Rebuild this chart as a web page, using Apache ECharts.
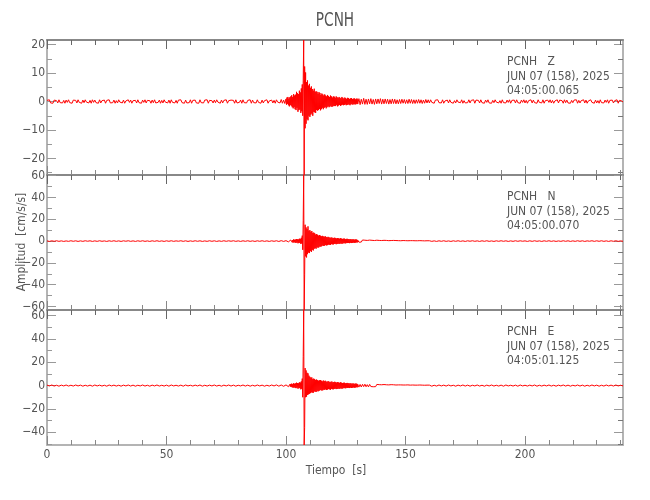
<!DOCTYPE html>
<html><head><meta charset="utf-8">
<script src="https://cdn.jsdelivr.net/npm/echarts@6.0.0/dist/echarts.min.js"></script>
<style>html,body{margin:0;padding:0;background:#fff}#c{width:650px;height:500px}</style>
</head><body><div id="c"></div>
<script>
// ---- data: each trace is 4 segments (pre-event, event, coda tail, post) ----
const segStart = [0, 100, 130, 160];           // segment start times [s]
const zSteps = [0.5, 0.2, 0.5, 0.5];           // sample spacing per segment [s]
const nSteps = [1, 0.2, 0.5, 1];
const eSteps = [1, 0.2, 0.5, 1];

const zPre = [0.4,-0.3,0.6,-0.5,0.2,-0.6,0.5,-0.2,0.3,-0.5,0.6,-0.4,0.1,-0.5,0.4,-0.6,0.5,-0.3,0.6,-0.4,
0.3,-0.6,0.5,-0.1,0.4,-0.5,0.6,-0.3,0.2,-0.6,0.5,-0.4,0.6,-0.2,0.3,-0.5,0.4,-0.6,0.6,-0.3,
0.5,-0.4,0.2,-0.6,0.6,-0.5,0.3,-0.2,0.5,-0.6,0.4,-0.3,0.6,-0.5,0.1,-0.4,0.5,-0.6,0.3,-0.5,
0.6,-0.2,0.4,-0.5,0.5,-0.6,0.2,-0.4,0.6,-0.3,0.5,-0.6,0.3,-0.1,0.4,-0.5,0.6,-0.4,0.2,-0.6,
0.5,-0.3,0.6,-0.5,0.4,-0.2,0.3,-0.6,0.5,-0.4,0.6,-0.5,0.2,-0.3,0.5,-0.6,0.4,-0.5,0.6,-0.2,
0.3,-0.5,0.5,-0.6,0.6,-0.3,0.1,-0.5,0.4,-0.6,0.5,-0.2,0.6,-0.4,0.3,-0.6,0.5,-0.5,0.2,-0.4,
0.6,-0.6,0.4,-0.3,0.5,-0.5,0.2,-0.6,0.6,-0.4,0.3,-0.5,0.5,-0.2,0.6,-0.6,0.4,-0.3,0.3,-0.5,
0.5,-0.4,0.6,-0.2,0.2,-0.6,0.5,-0.5,0.4,-0.3,0.6,-0.6,0.3,-0.4,0.5,-0.1,0.4,-0.6,0.6,-0.5,
0.2,-0.3,0.5,-0.6,0.6,-0.4,0.3,-0.5,0.4,-0.2,0.6,-0.6,0.5,-0.4,0.2,-0.5,0.6,-0.3,0.4,-0.6,
0.5,-0.5,0.3,-0.4,0.6,-0.6,0.2,-0.3,0.5,-0.5,0.4,-0.6,0.6,-0.2,0.3,-0.5,0.7,-0.6,0.5,-0.7];
const zEvent = [0.9,-1.1,1.4,-0.8,1.6,-1.3,1.0,-1.7,1.5,-1.2,
1.8,-1.5,2.2,-2.0,1.6,-2.4,2.6,-1.9,2.1,-2.7,
2.4,-3.0,3.4,-2.2,2.9,-3.6,2.6,-3.0,3.8,-2.8,
3.2,-4.0,4.6,-3.4,6.0,-5.0,7.5,21.6,-25.8,12.3,
-9.4,10.2,-7.8,6.8,-6.2,7.4,-6.6,5.6,-5.0,6.2,
-5.4,4.8,-4.6,5.3,-4.2,4.4,-5.0,3.8,-3.6,4.5,
-3.8,3.4,-4.0,3.6,-3.0,3.4,-3.2,2.7,-3.0,3.3,
-2.6,3.0,-3.1,2.3,-2.7,2.8,-2.2,2.5,-2.7,2.1,
-2.2,2.5,-1.9,2.1,-2.4,1.8,-2.0,2.3,-1.6,1.9,
-2.0,1.6,-1.8,2.1,-1.5,1.8,-1.9,1.4,-1.7,1.8,
-1.5,1.7,-1.6,1.3,-1.6,1.8,-1.2,1.5,-1.7,1.2,
-1.4,1.6,-1.2,1.3,-1.5,1.1,-1.3,1.6,-1.1,1.3,
-1.3,1.0,-1.2,1.4,-1.0,1.2,-1.3,0.9,-1.2,1.3,
-1.0,1.2,-1.1,0.9,-1.3,1.1,-0.9,1.2,-1.0,0.9,
-1.1,1.0,-0.9,1.1,-1.0,0.8,-1.0,1.0,-0.8,1.0];
const zTail = [-0.9,1.0,-1.1,0.8,-0.9,1.1,-1.0,0.8,-1.0,0.9,-0.8,1.0,-0.9,0.7,-1.0,0.9,-0.8,0.9,-0.7,1.0,-0.9,0.8,-0.8,0.9,-0.7,0.8,-0.9,0.7,-0.8,0.9,-0.7,0.8,-0.8,0.6,-0.8,0.7,-0.7,0.8,-0.6,0.7,-0.7,0.6,-0.7,0.8,-0.6,0.7,-0.7,0.6,-0.7,0.6,-0.6,0.7,-0.6,0.6,-0.7,0.5,-0.6,0.7,-0.5,0.6];
const zPost = [-0.5,0.6,-0.3,0.4,-0.6,0.5,-0.2,0.6,-0.4,0.3,-0.5,0.6,-0.6,0.2,-0.4,0.5,-0.5,0.6,-0.3,0.4,
-0.6,0.3,-0.5,0.6,-0.2,0.5,-0.4,0.6,-0.6,0.3,-0.5,0.2,-0.4,0.6,-0.5,0.4,-0.3,0.6,-0.6,0.5,
-0.2,0.4,-0.5,0.6,-0.4,0.3,-0.6,0.5,-0.3,0.6,-0.5,0.2,-0.6,0.4,-0.4,0.6,-0.2,0.5,-0.5,0.3,
-0.6,0.6,-0.4,0.2,-0.5,0.5,-0.3,0.6,-0.6,0.4,-0.2,0.5,-0.5,0.6,-0.4,0.3,-0.6,0.5,-0.3,0.6,
-0.5,0.4,-0.6,0.3,-0.2,0.6,-0.5,0.5,-0.4,0.2,-0.6,0.6,-0.3,0.4,-0.5,0.6,-0.6,0.3,-0.4,0.5,
-0.3,0.6,-0.5,0.4,-0.6,0.2,-0.4,0.6,-0.5,0.5,-0.2,0.3,-0.6,0.6,-0.4,0.5,-0.5,0.2,-0.6,0.4,
-0.4,0.5,-0.2,0.6,-0.6,0.4,-0.5,0.3,-0.3,0.6,-0.5,0.5,-0.6,0.2,-0.4,0.6,-0.3,0.4,-0.6,0.5,
-0.5,0.3,-0.6,0.6,-0.4,0.2,-0.5,0.5,-0.3,0.6,-0.6,0.4,-0.2,0.5,-0.5,0.3,-0.4,0.6,-0.6,0.4,
-0.3,0.2,-0.2];

const nPre = [0.2,-0.3,0.25,-0.2,0.3,-0.25,0.2,-0.3,0.15,-0.25,0.3,-0.2,0.25,-0.3,0.2,-0.25,0.3,-0.15,0.25,-0.3,0.2,-0.25,0.3,-0.2,0.15,-0.3,0.25,-0.2,0.3,-0.25,0.2,-0.3,0.25,-0.15,0.3,-0.25,0.2,-0.3,0.25,-0.2,0.3,-0.25,0.15,-0.3,0.25,-0.2,0.3,-0.25,0.2,-0.3,0.25,-0.2,0.3,-0.25,0.2,-0.15,0.3,-0.25,0.25,-0.3,0.2,-0.25,0.3,-0.2,0.25,-0.3,0.15,-0.25,0.3,-0.2,0.25,-0.3,0.2,-0.25,0.3,-0.2,0.25,-0.15,0.3,-0.25,0.2,-0.3,0.25,-0.2,0.3,-0.25,0.2,-0.3,0.25,-0.2,0.3,-0.25,0.2,-0.3,0.25,-0.2,0.3,-0.35,0.4,-0.3];
const nEvent = [0.4,-0.6,0.8,-0.5,0.9,-0.7,0.6,-1.0,0.8,-0.7,
1.0,-0.8,1.3,-1.1,0.9,-1.4,1.6,-1.0,1.2,-1.5,
1.4,-1.7,1.9,-1.2,1.6,-2.0,1.5,-1.8,2.2,-1.6,
2.0,-2.6,3.0,-2.2,5.0,-8.0,19.0,60.6,-63.2,-31.0,
15.0,-14.0,12.5,-15.0,11.0,-12.0,13.5,-10.5,9.5,-11.0,
10.0,-9.0,8.5,-10.0,9.2,-8.0,7.5,-8.6,7.8,-7.0,
7.2,-6.5,6.0,-7.0,6.4,-5.5,5.8,-6.2,5.0,-5.6,
5.5,-4.8,5.0,-5.2,4.4,-4.6,4.8,-4.0,4.3,-4.5,
3.9,-4.2,4.5,-3.6,3.8,-4.0,3.4,-3.7,3.9,-3.2,
3.5,-3.3,3.0,-3.5,3.2,-2.8,3.3,-3.0,2.7,-3.1,
2.9,-2.6,3.1,-2.5,2.7,-2.9,2.4,-2.7,2.8,-2.3,
2.5,-2.6,2.2,-2.4,2.6,-2.1,2.3,-2.5,2.0,-2.2,
2.2,-1.9,2.3,-2.0,1.8,-2.1,2.0,-1.7,2.1,-1.8,
1.9,-1.7,1.6,-1.9,1.8,-1.5,1.7,-1.8,1.4,-1.6,
1.7,-1.4,1.5,-1.6,1.3,-1.5,1.6,-1.2,1.4,-1.3];
const nTail = [0.9,-1.0,0.7,-0.9,1.0,-0.6,0.8,-0.9,0.6,-0.8,0.9,-0.5,0.7,-0.8,0.5,-0.7,0.8,-0.4,0.6,-0.7,0.5,-0.6,0.7,-0.4,0.6,-0.5,0.4,-0.6,0.5,-0.4,0.6,-0.3,0.5,-0.4,0.4,-0.5,0.3,-0.4,0.5,-0.3,0.4,-0.4,0.3,-0.5,0.4,-0.3,0.4,-0.2,0.3,-0.4,0.3,-0.3,0.4,-0.2,0.3,-0.3,0.2,-0.3,0.3,-0.2];
const nPost = [0.3,-0.25,0.2,-0.3,0.25,-0.2,0.3,-0.25,0.15,-0.3,0.25,-0.2,0.3,-0.25,0.2,-0.3,0.25,-0.15,0.3,-0.2,0.2,-0.3,0.25,-0.2,0.3,-0.25,0.15,-0.3,0.25,-0.2,0.3,-0.2,0.25,-0.3,0.2,-0.25,0.3,-0.2,0.25,-0.15,0.2,-0.3,0.25,-0.25,0.3,-0.2,0.2,-0.3,0.25,-0.2,0.3,-0.25,0.2,-0.3,0.15,-0.25,0.3,-0.2,0.25,-0.3,0.2,-0.25,0.3,-0.2,0.25,-0.3,0.2,-0.15,0.3,-0.25,0.25,-0.2,0.3,-0.25,0.2,-0.3,0.25,-0.2,0.3,-0.25,0.2,-0.2];

const ePre = [0.4,-0.3,0.5,-0.4,0.3,-0.5,0.4,-0.3,0.5,-0.4,0.3,-0.4,0.5,-0.3,0.4,-0.5,0.3,-0.4,0.4,-0.5,0.5,-0.3,0.4,-0.4,0.3,-0.5,0.5,-0.3,0.4,-0.4,0.3,-0.5,0.4,-0.3,0.5,-0.4,0.4,-0.5,0.3,-0.3,0.5,-0.4,0.3,-0.5,0.4,-0.3,0.5,-0.4,0.3,-0.4,0.4,-0.5,0.5,-0.3,0.3,-0.4,0.4,-0.5,0.5,-0.3,0.3,-0.4,0.4,-0.3,0.5,-0.5,0.3,-0.4,0.4,-0.3,0.5,-0.4,0.3,-0.5,0.4,-0.3,0.5,-0.4,0.4,-0.5,0.3,-0.3,0.5,-0.4,0.4,-0.5,0.3,-0.4,0.5,-0.3,0.4,-0.5,0.3,-0.4,0.5,-0.3,0.6,-0.5,0.5,-0.6];
const eEvent = [0.6,-0.8,1.0,-0.7,1.2,-0.9,0.8,-1.3,1.1,-0.9,
1.4,-1.1,1.7,-1.5,1.2,-1.8,2.0,-1.4,1.6,-2.0,
1.9,-2.2,2.5,-1.7,2.2,-2.6,2.0,-2.3,2.8,-2.1,
2.6,-3.2,3.6,-2.8,6.0,-10.0,25.0,64.9,-51.0,-36.0,
15.0,-10.0,13.0,-9.5,11.0,-8.0,10.5,-7.5,8.5,-7.0,
7.5,-6.5,6.8,-5.8,7.0,-6.0,5.5,-6.2,6.0,-5.0,
5.6,-5.2,4.8,-5.5,5.2,-4.4,4.6,-5.0,4.2,-4.6,
4.5,-4.0,4.8,-3.8,4.2,-4.3,3.6,-4.0,4.4,-3.5,
3.8,-3.6,4.2,-3.2,3.5,-3.8,3.2,-3.4,3.9,-3.0,
3.4,-3.2,3.0,-3.6,3.3,-2.8,3.5,-3.1,2.8,-3.2,
3.1,-2.8,3.3,-2.6,2.9,-3.0,2.6,-2.9,3.0,-2.5,
2.7,-2.8,2.4,-2.6,2.8,-2.3,2.5,-2.7,2.2,-2.4,
2.4,-2.1,2.5,-2.2,2.0,-2.3,2.2,-1.9,2.3,-2.0,
2.1,-1.9,1.8,-2.1,2.0,-1.7,1.9,-2.0,1.6,-1.8,
1.9,-1.6,1.7,-1.8,1.5,-1.7,1.8,-1.4,1.6,-1.5];
const eTail = [1.2,-1.3,1.0,-1.2,1.1,-0.9,1.2,-1.0,0.8,-1.1,1.0,-0.8,0.9,-1.0,0.7,-0.9,1.0,-0.6,0.8,-0.9,0.7,-0.8,0.9,-0.5,0.7,-0.8,0.6,-0.7,0.8,-0.5,0.7,-0.6,0.5,-0.7,0.6,-0.5,0.6,-0.4,0.5,-0.6,0.5,-0.4,0.6,-0.5,0.4,-0.5,0.5,-0.3,0.4,-0.5,0.4,-0.4,0.5,-0.3,0.4,-0.4,0.3,-0.4,0.4,-0.3];
const ePost = [0.4,-0.5,0.3,-0.4,0.5,-0.3,0.4,-0.4,0.5,-0.3,0.3,-0.5,0.4,-0.3,0.5,-0.4,0.4,-0.5,0.3,-0.3,0.5,-0.4,0.3,-0.5,0.4,-0.3,0.5,-0.4,0.3,-0.4,0.4,-0.5,0.5,-0.3,0.3,-0.4,0.4,-0.5,0.5,-0.3,0.3,-0.4,0.4,-0.3,0.5,-0.5,0.3,-0.4,0.4,-0.3,0.5,-0.4,0.3,-0.5,0.4,-0.3,0.5,-0.4,0.4,-0.5,0.3,-0.3,0.5,-0.4,0.4,-0.5,0.3,-0.4,0.5,-0.3,0.4,-0.5,0.3,-0.4,0.5,-0.3,0.4,-0.4,0.5,-0.3,0.3,-0.3];

const channels = ['Z', 'N', 'E'];
const startTimes = ['04:05:00.065', '04:05:00.070', '04:05:01.125'];
const station = 'PCNH';
const dateLine = 'JUN 07 (158), 2025';
const yMin = [-25.8, -63.2, -51.0];
const yMax = [21.6, 60.6, 64.9];
const yMajor = [[-20,-10,0,10,20], [-60,-40,-20,0,20,40,60], [-40,-20,0,20,40,60]];
const yMinor = [[-25,-20,-15,-10,-5,0,5,10,15,20], [-60,-50,-40,-30,-20,-10,0,10,20,30,40,50,60], [-50,-40,-30,-20,-10,0,10,20,30,40,50,60]];
const xMin = 0, xMax = 241;
const xMajor = [0, 50, 100, 150, 200];
const xMinor = [0,10,20,30,40,50,60,70,80,90,100,110,120,130,140,150,160,170,180,190,200,210,220,230,240];
const xTitle = 'Tiempo  [s]';
const yTitle = 'Amplitud  [cm/s/s]';

const traces = [[zPre, zEvent, zTail, zPost], [nPre, nEvent, nTail, nPost], [ePre, eEvent, eTail, ePost]];
const traceSteps = [zSteps, nSteps, eSteps];

function buildSeriesData(segs, steps) {
  const out = [];
  segs.forEach((vals, s) => {
    vals.forEach((v, i) => {
      out.push([Math.round((segStart[s] + i * steps[s]) * 100) / 100, v]);
    });
  });
  return out;
}

// ---- layout / styles ----
const FONT = '"DejaVu Sans Condensed", "Liberation Sans Narrow", sans-serif';
const TXT = '#555555';
const LEFT = 47, RIGHT = 27, TOP = 40, PH = 135;
const minus = v => String(v).replace('-', '\u2212');

const grids = [], xAxes = [], yAxes = [], series = [], graphics = [];
for (let i = 0; i < 3; i++) {
  grids.push({ left: LEFT, right: RIGHT, top: TOP + PH * i, height: PH });
  const xBase = { gridIndex: i, type: 'value', min: xMin, max: xMax, splitLine: { show: false } };
  xAxes.push(Object.assign({}, xBase, { position: 'bottom',
    axisLine: { show: true, onZero: false, lineStyle: { color: '#b4b4b4', width: 2 } },
    axisTick: { show: true, inside: true, length: 5, customValues: xMinor, lineStyle: { color: '#888' } },
    axisLabel: { show: false } }));
  xAxes.push(Object.assign({}, xBase, { position: 'bottom',
    axisLine: { show: false, onZero: false },
    axisTick: { show: true, inside: true, length: 9, customValues: xMajor, lineStyle: { color: '#888' } },
    axisLabel: { show: i === 2, customValues: xMajor, margin: 4, color: TXT, fontFamily: FONT, fontSize: 12 } }));
  xAxes.push(Object.assign({}, xBase, { position: 'top',
    axisLine: { show: true, onZero: false, lineStyle: { color: '#888888', width: 2 } },
    axisTick: { show: true, inside: true, length: 5, customValues: xMinor, lineStyle: { color: '#666' } },
    axisLabel: { show: false } }));
  xAxes.push(Object.assign({}, xBase, { position: 'top',
    axisLine: { show: false, onZero: false },
    axisTick: { show: true, inside: true, length: 9, customValues: xMajor, lineStyle: { color: '#666' } },
    axisLabel: { show: false } }));

  const yBase = { gridIndex: i, type: 'value', min: yMin[i], max: yMax[i], splitLine: { show: false } };
  yAxes.push(Object.assign({}, yBase, { position: 'left',
    axisLine: { show: true, onZero: false, lineStyle: { color: '#b4b4b4', width: 2 } },
    axisTick: { show: true, inside: true, length: 5, customValues: yMinor[i], lineStyle: { color: '#999' } },
    axisLabel: { show: false } }));
  yAxes.push(Object.assign({}, yBase, { position: 'left',
    axisLine: { show: false, onZero: false },
    axisTick: { show: true, inside: true, length: 9, customValues: yMajor[i], lineStyle: { color: '#999' } },
    axisLabel: { show: true, customValues: yMajor[i], margin: 2, color: TXT, fontFamily: FONT, fontSize: 12, formatter: minus } }));
  yAxes.push(Object.assign({}, yBase, { position: 'right',
    axisLine: { show: true, onZero: false, lineStyle: { color: '#b4b4b4', width: 2 } },
    axisTick: { show: true, inside: true, length: 5, customValues: yMinor[i], lineStyle: { color: '#777' } },
    axisLabel: { show: false } }));
  yAxes.push(Object.assign({}, yBase, { position: 'right',
    axisLine: { show: false, onZero: false },
    axisTick: { show: true, inside: true, length: 9, customValues: yMajor[i], lineStyle: { color: '#999' } },
    axisLabel: { show: false } }));

  series.push({ type: 'line', xAxisIndex: 4 * i, yAxisIndex: 4 * i,
    data: buildSeriesData(traces[i], traceSteps[i]), showSymbol: false, symbol: 'none', clip: true,
    lineStyle: { color: '#ff0000', width: 1 }, animation: false });

  const ty = TOP + PH * i + 22;
  [station + '   ' + channels[i], dateLine, startTimes[i]].forEach((t, k) => {
    graphics.push({ type: 'text', x: 507, y: ty + k * 14.5, scaleX: 0.92,
      style: { text: t, font: '13px ' + FONT, fill: TXT, textAlign: 'left', textVerticalAlign: 'middle' } });
  });
}
graphics.push({ type: 'text', x: 335, y: 21, scaleX: 0.8, style: { text: station, font: '19px ' + FONT, fill: TXT, textAlign: 'center', textVerticalAlign: 'middle' } });
graphics.push({ type: 'text', x: 336, y: 471, scaleX: 0.92, style: { text: xTitle, font: '13px ' + FONT, fill: TXT, textAlign: 'center', textVerticalAlign: 'middle' } });
graphics.push({ type: 'text', x: 22, y: 242, rotation: Math.PI / 2, scaleX: 0.92, style: { text: yTitle, font: '13px ' + FONT, fill: TXT, textAlign: 'center', textVerticalAlign: 'middle' } });

const chart = echarts.init(document.getElementById('c'), null, { renderer: 'canvas' });
chart.setOption({
  animation: false,
  backgroundColor: '#ffffff',
  grid: grids, xAxis: xAxes, yAxis: yAxes, series: series, graphic: graphics
});
</script></body></html>
